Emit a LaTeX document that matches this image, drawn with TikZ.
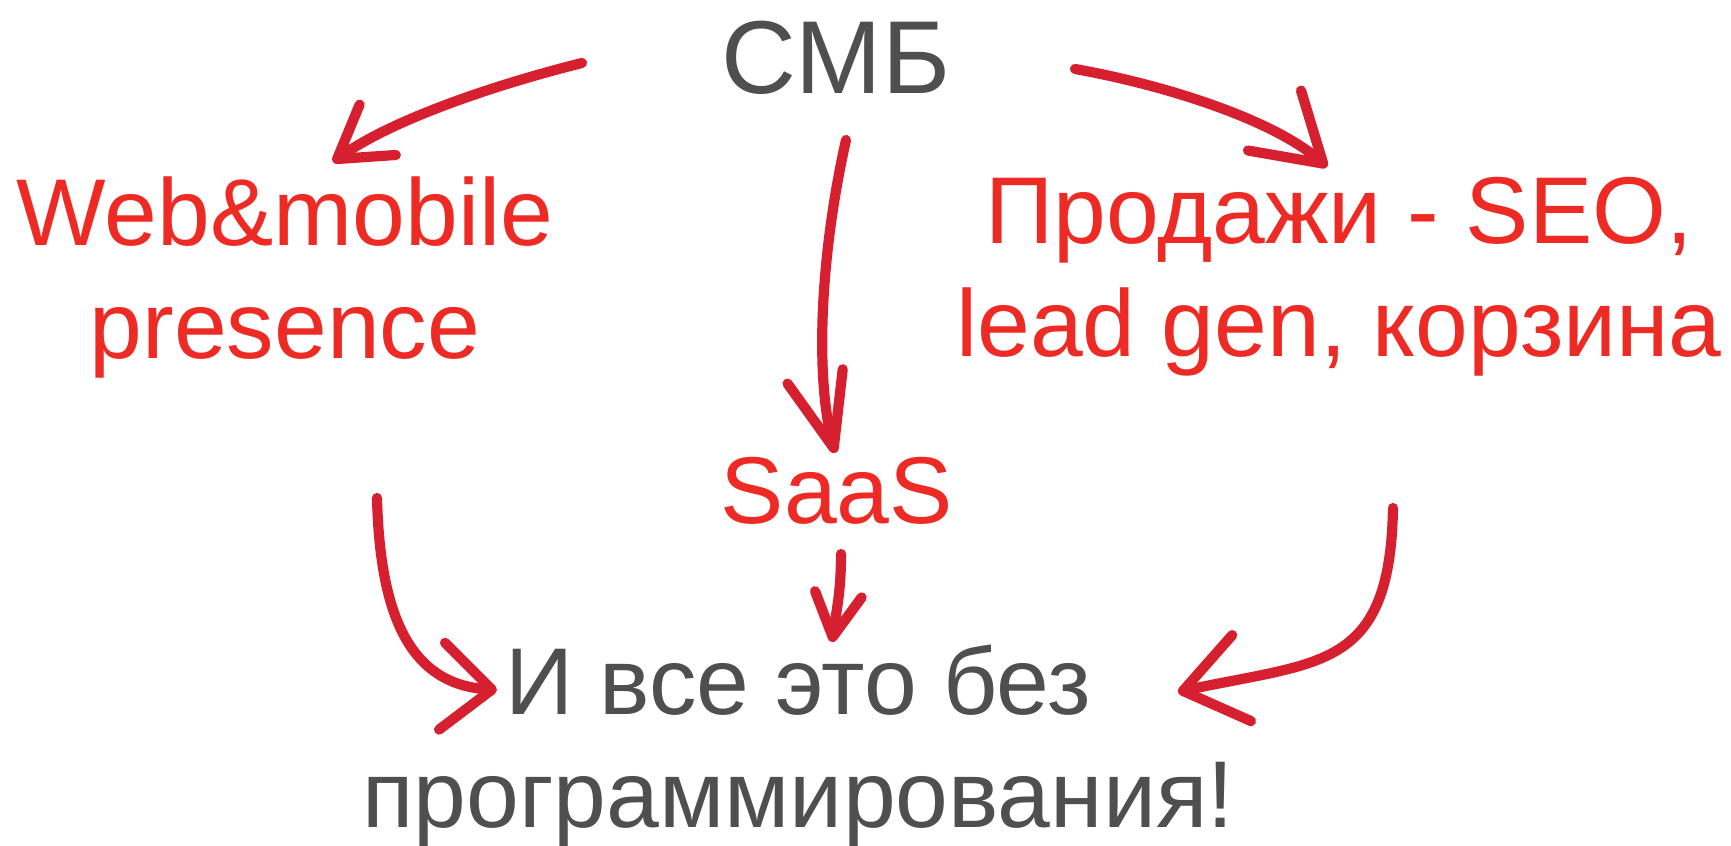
\documentclass[tikz,border=0pt]{standalone}
\usepackage{fontspec}
\setmainfont{Liberation Sans}
\usetikzlibrary{arrows.meta}

\definecolor{labelred}{HTML}{EE2A24}
\definecolor{arrowred}{HTML}{D7202F}
\definecolor{textgray}{HTML}{4F4F4F}

\begin{document}
\begin{tikzpicture}[
  redtext/.style={text=labelred,font=\fontsize{27}{32.4}\selectfont,align=center,anchor=base,inner sep=0pt},
  graytext/.style={text=textgray,font=\fontsize{27}{32.4}\selectfont,align=center,anchor=base,inner sep=0pt},
  sketch/.style={draw=arrowred,line width=2.9pt,line cap=round,line join=round}
]

  % white page, fixes the size of the picture
  \fill [white] (0,0) rectangle (17.31,8.46);
  \useasboundingbox (0,0) rectangle (17.31,8.46);

  % labels (base = baseline of the last line)
  \node [graytext,font=\fontsize{29.5}{34}\selectfont] (smb) at (8.36,7.52) {СМБ};
  \node [redtext] (web) at (2.85,4.87) {Web\&mobile\\presence};
  \node [redtext] (sales) at (13.39,4.89) {Продажи - SEO,\\lead gen, корзина};
  \node [redtext] (saas) at (8.37,3.22) {SaaS};
  \node [graytext] (nocode) at (7.98,0.18) {И все это без\\программирования!};

  % hand drawn arrows from the top
  \draw [sketch,-{Straight Barb[length=5mm,width=6.2mm,round]}]
    ([shift={(-2.54,0.31)}]smb.base) .. controls +(-0.92,-0.23) and +(0.57,0.41) .. ([shift={(0.48,1.97)}]web.base);
  \draw [sketch,-{Straight Barb[length=6.5mm,width=8mm,round]}]
    ([shift={(2.39,0.25)}]smb.base) .. controls +(0.95,-0.17) and +(-0.52,0.46) .. ([shift={(-0.12,1.90)}]sales.base);
  \draw [sketch,-{Straight Barb[length=7.4mm,width=5.7mm,round]}]
    ([shift={(0.10,-0.46)}]smb.base) .. controls +(-0.26,-1.16) and +(-0.2,0.77) .. ([shift={(-0.02,0.71)}]saas.base);

  % and down to the bottom line
  \draw [sketch,-{Straight Barb[length=4.3mm,width=4.7mm,round]}]
    ([shift={(0.04,-0.30)}]saas.base) .. controls +(0,-0.4) and +(0.04,0.3) .. ([shift={(0.34,1.86)}]nocode.base);
  \draw [sketch,-{Straight Barb[length=5mm,width=8.7mm,round]}]
    ([shift={(0.92,-1.39)}]web.base) .. controls +(0.03,-1.18) and +(-0.87,0.06) .. ([shift={(-3.01,1.38)}]nocode.base);
  \draw [sketch,-{Straight Barb[length=6mm,width=8.8mm,round]}]
    ([shift={(0.54,-1.51)}]sales.base) .. controls +(-0.03,-1.63) and +(1.42,0.31) .. ([shift={(3.80,1.36)}]nocode.base);

\end{tikzpicture}
\end{document}
